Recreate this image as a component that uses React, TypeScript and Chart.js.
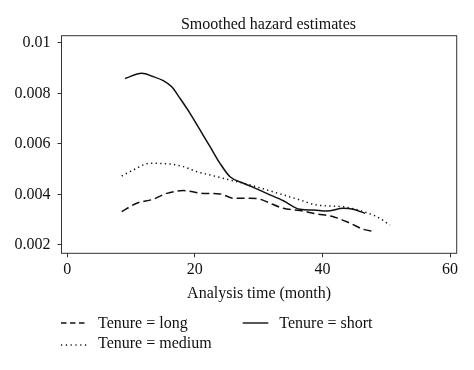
import React, { useEffect, useRef } from "react";
import { Chart, registerables } from "chart.js";
Chart.register(...registerables);

const titleText = "Smoothed hazard estimates";
const xTitle = "Analysis time (month)";
const xTickValues = [0, 20, 40, 60];
const yTickValues = [0.002, 0.004, 0.006, 0.008, 0.01];
const yTickLabels = ["0.002", "0.004", "0.006", "0.008", "0.01"];
const seriesNames = ["Tenure = long", "Tenure = short", "Tenure = medium"];

const longX = [8.53, 10.88, 13.48, 15.58, 18.19, 21.32, 23.94, 26.03, 28.64, 30.2, 31.26, 33.87, 36.49, 39.1, 41.7, 44.33, 46.41, 48.24];
const longY = [0.00332, 0.00365, 0.00381, 0.00404, 0.00415, 0.00404, 0.00402, 0.00385, 0.00385, 0.00381, 0.00371, 0.00345, 0.00336, 0.00323, 0.00312, 0.00286, 0.00262, 0.00253];

const shortX = [9.05, 11.67, 13.48, 15.05, 16.37, 17.67, 19.24, 20.81, 22.38, 23.94, 25.51, 27.6, 29.16, 31.26, 33.87, 36.49, 38.57, 40.67, 43.27, 44.84, 46.68];
const shortY = [0.00859, 0.00879, 0.00866, 0.0085, 0.00826, 0.0078, 0.00721, 0.00655, 0.00589, 0.00523, 0.0047, 0.00444, 0.00428, 0.00404, 0.00375, 0.00341, 0.00338, 0.00334, 0.00345, 0.00341, 0.00325];

const mediumX = [8.53, 10.35, 12.97, 16.1, 18.19, 20.29, 22.37, 25.5, 28.68, 31.26, 33.87, 36.49, 39.1, 43.27, 45.88, 48.5, 50.6];
const mediumY = [0.00473, 0.00497, 0.00523, 0.0052, 0.0051, 0.0049, 0.00477, 0.00457, 0.00437, 0.00418, 0.00398, 0.00378, 0.00358, 0.00351, 0.00336, 0.00312, 0.00279];

const FONT = "'Liberation Serif', 'Times New Roman', serif";
const INK = "#111111";
const BOX = "#333333";

const pts = (xs: number[], ys: number[]) => xs.map((x, i) => ({ x, y: ys[i] }));

const decor = {
  id: "decor",
  afterDraw(chart: any) {
    const { ctx, chartArea: a } = chart;
    ctx.save();
    ctx.strokeStyle = BOX;
    ctx.lineWidth = 1;
    ctx.setLineDash([]);
    ctx.strokeRect(a.left, a.top, a.right - a.left, a.bottom - a.top);

    ctx.fillStyle = INK;
    ctx.font = `16px ${FONT}`;
    ctx.textBaseline = "alphabetic";
    ctx.textAlign = "center";
    ctx.fillText(titleText, 268.5, 28.5);
    ctx.fillText(xTitle, (a.left + a.right) / 2, 298.3);

    ctx.textAlign = "left";
    ctx.fillText(seriesNames[0], 98, 328.3);
    ctx.fillText(seriesNames[1], 279.3, 328.3);
    ctx.fillText(seriesNames[2], 98, 347.7);

    ctx.strokeStyle = INK;
    ctx.lineWidth = 1.4;
    ctx.setLineDash([5.5, 3.5]);
    ctx.beginPath(); ctx.moveTo(61, 323); ctx.lineTo(87, 323); ctx.stroke();
    ctx.setLineDash([]);
    ctx.beginPath(); ctx.moveTo(242.7, 323); ctx.lineTo(268.3, 323); ctx.stroke();
    ctx.setLineDash([1.2, 3.6]);
    ctx.beginPath(); ctx.moveTo(61, 345); ctx.lineTo(89, 345); ctx.stroke();
    ctx.restore();
  },
};

export default function App() {
  const ref = useRef<HTMLCanvasElement | null>(null);
  useEffect(() => {
    if (!ref.current) return;
    const common = { borderColor: INK, borderWidth: 1.5, pointRadius: 0, cubicInterpolationMode: "monotone" as const, fill: false };
    const chart = new Chart(ref.current, {
      type: "line",
      data: {
        datasets: [
          { ...common, label: seriesNames[0], data: pts(longX, longY), borderDash: [8, 4] },
          { ...common, label: seriesNames[1], data: pts(shortX, shortY) },
          { ...common, label: seriesNames[2], data: pts(mediumX, mediumY), borderDash: [1.3, 3.3] },
        ],
      },
      options: {
        animation: false,
        responsive: false,
        devicePixelRatio: 1,
        layout: { padding: { left: 0, top: 35.7, right: 17.3, bottom: 0 } },
        plugins: { legend: { display: false }, title: { display: false }, tooltip: { enabled: false } },
        scales: {
          x: {
            type: "linear",
            min: -0.91,
            max: 61.05,
            afterBuildTicks: (s: any) => { s.ticks = xTickValues.map((v) => ({ value: v })); },
            afterFit: (s: any) => { s.height = 370 - 253.3; },
            ticks: { color: INK, font: { family: FONT, size: 16 }, padding: 3, maxRotation: 0, autoSkip: false },
            grid: { drawOnChartArea: false, drawTicks: true, tickLength: 4, color: BOX },
            border: { display: false },
          },
          y: {
            type: "linear",
            min: 0.00167,
            max: 0.01028,
            afterBuildTicks: (s: any) => { s.ticks = yTickValues.map((v) => ({ value: v })); },
            afterFit: (s: any) => { s.width = 61.5; },
            ticks: {
              color: INK,
              font: { family: FONT, size: 16 },
              padding: 7,
              autoSkip: false,
              callback: (v: any) => { const i = yTickValues.findIndex((t) => Math.abs(t - v) < 1e-9); return i >= 0 ? yTickLabels[i] : ""; },
            },
            grid: { drawOnChartArea: false, drawTicks: true, tickLength: 4, color: BOX },
            border: { display: false },
          },
        },
      },
      plugins: [decor],
    });
    return () => chart.destroy();
  }, []);
  return (
    <div style={{ position: "fixed", left: 0, top: 0, width: 474, height: 370, background: "#fff" }}>
      <canvas ref={ref} width={474} height={370} />
    </div>
  );
}
